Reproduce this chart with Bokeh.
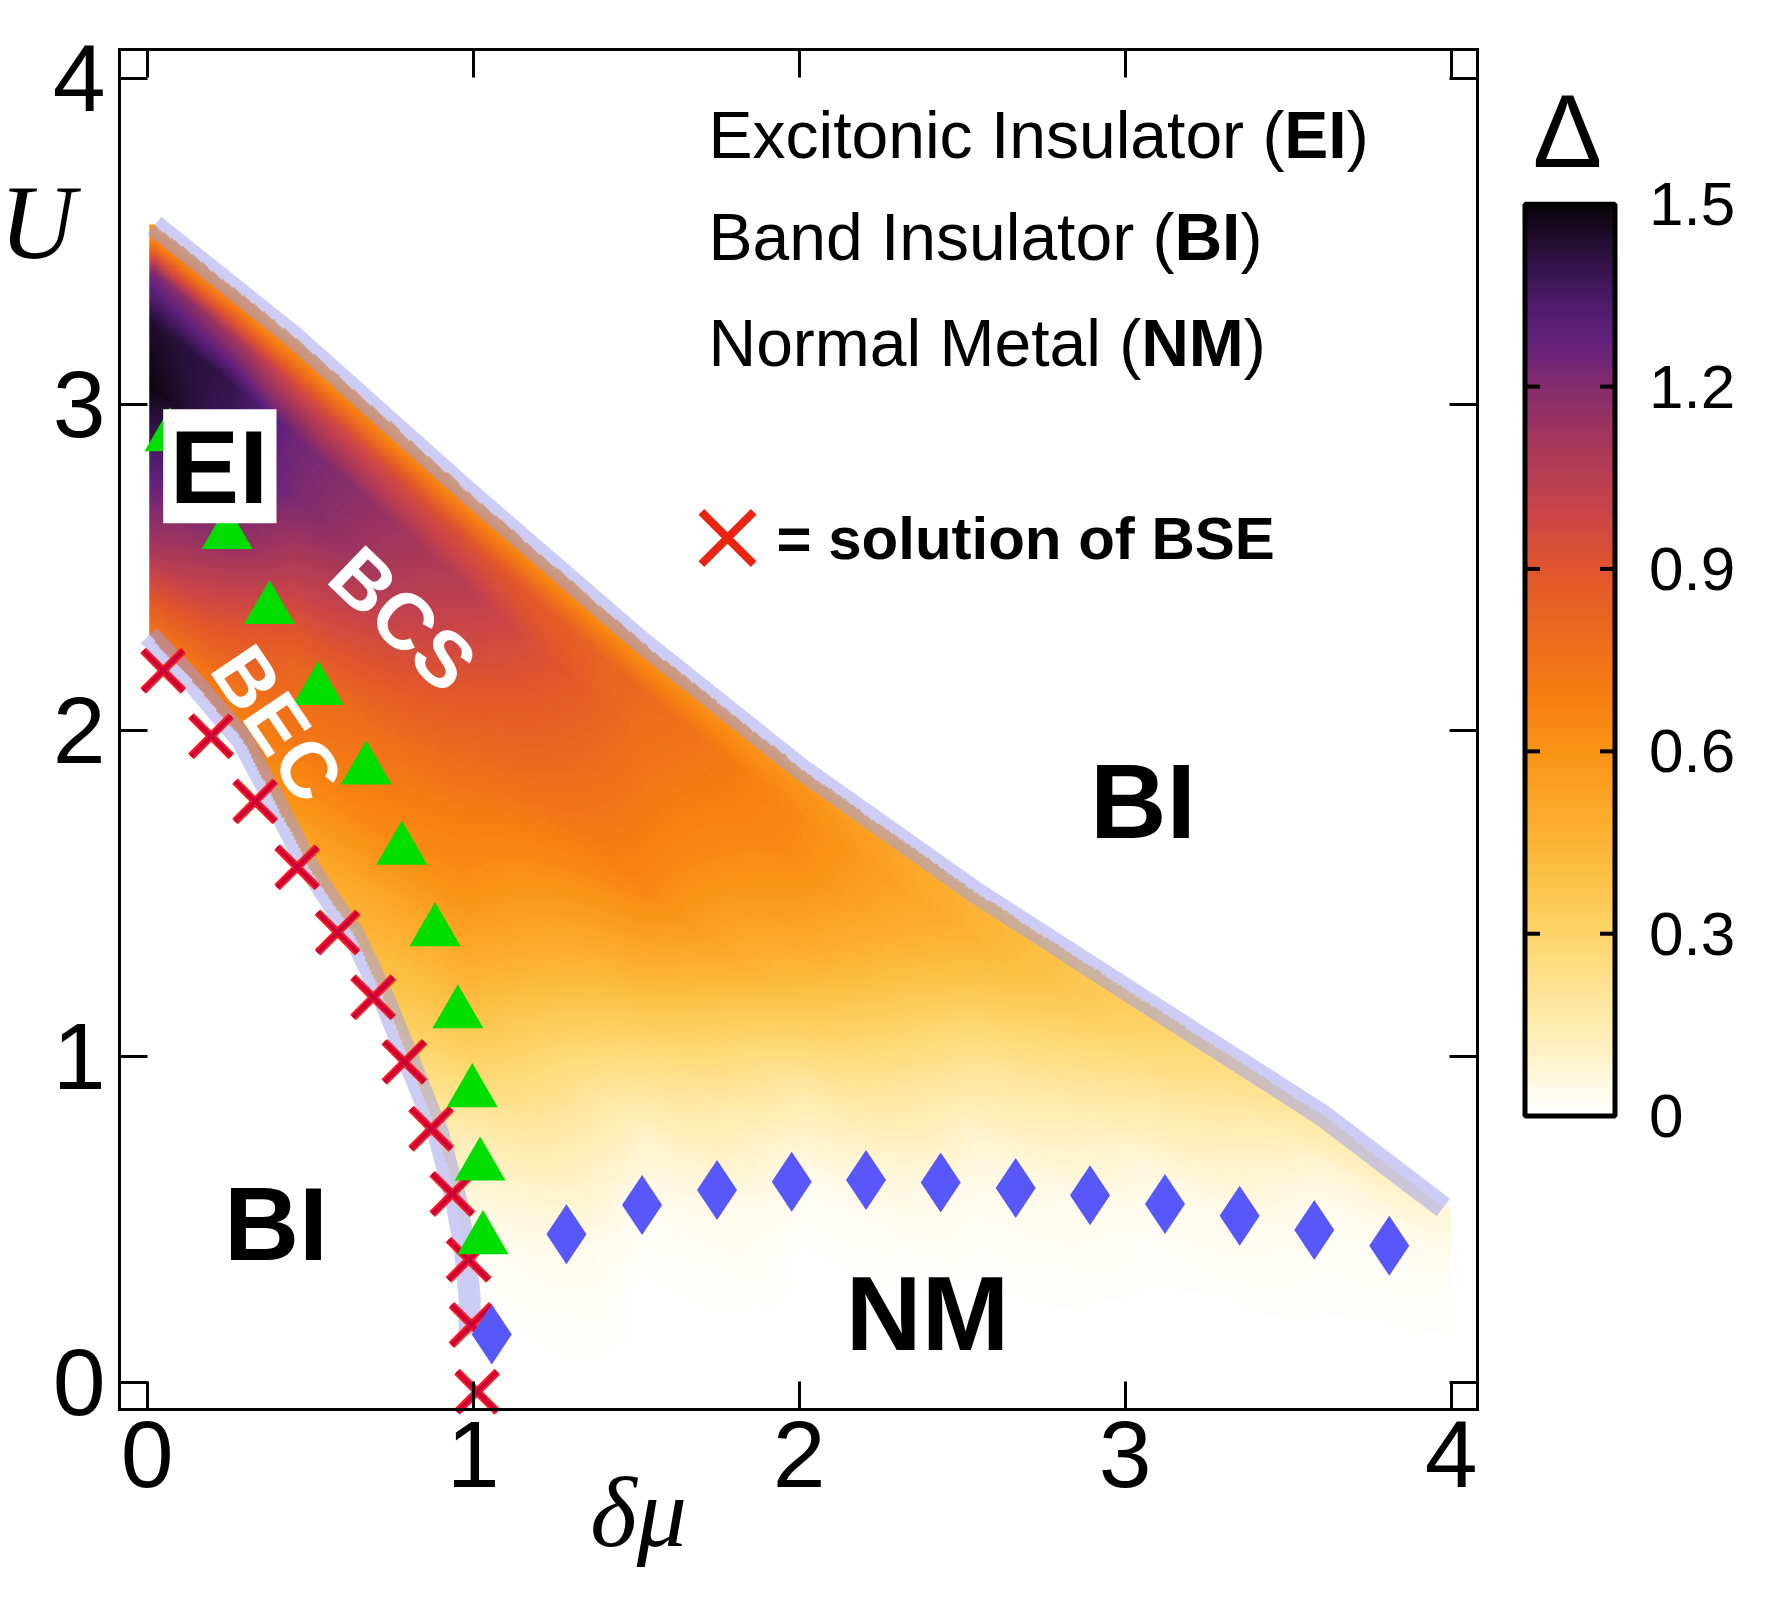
import numpy as np
from bokeh.plotting import figure
from bokeh.models import (Range1d, LinearAxis, FixedTicker, Label, BoxAnnotation,
                          LinearColorMapper)
from bokeh.embed import file_html
from bokeh.resources import INLINE

# ---------------- data ----------------
# red crosses: solution of the BSE
bse_dmu = [0.049, 0.196, 0.331, 0.460, 0.584, 0.693, 0.789, 0.871, 0.936, 0.986, 0.995, 1.012]
bse_U   = [2.182, 1.981, 1.781, 1.579, 1.379, 1.180, 0.982, 0.777, 0.577, 0.375, 0.175, -0.030]
# green triangles (BEC/BCS crossover)
tri_dmu = [0.070, 0.245, 0.375, 0.525, 0.672, 0.781, 0.883, 0.953, 0.997, 1.021, 1.030]
tri_U   = [2.900, 2.600, 2.370, 2.122, 1.878, 1.632, 1.382, 1.130, 0.888, 0.663, 0.437]
# blue diamonds (EI / NM boundary)
nm_dmu = [1.057, 1.286, 1.518, 1.748, 1.977, 2.205, 2.434, 2.664, 2.892, 3.122, 3.351, 3.580, 3.810]
nm_U   = [0.146, 0.453, 0.543, 0.589, 0.614, 0.620, 0.612, 0.595, 0.573, 0.546, 0.510, 0.466, 0.418]
# upper (EI / BI) boundary band
upper_dmu = [0.022, 0.451, 0.983, 1.516, 2.006, 2.539, 3.071, 3.602, 3.976]
upper_U   = [3.548, 3.205, 2.730, 2.270, 1.880, 1.503, 1.160, 0.820, 0.535]
# lower (BI / EI) boundary band
lower_dmu = [0.005, 0.144, 0.291, 0.397, 0.495, 0.632, 0.729, 0.811, 0.893, 0.948, 0.975, 0.989, 0.989]
lower_U   = [2.290, 2.143, 1.970, 1.770, 1.579, 1.374, 1.170, 0.965, 0.760, 0.556, 0.402, 0.259, 0.146]

# gap Delta read along vertical cuts, as a function of depth below the upper boundary
depth_below_upper = [0.0, 0.06, 0.15, 0.3, 0.5, 0.75, 1.0, 1.25, 1.5, 1.75, 2.0, 2.25, 2.5, 3.0]
cut_dmu = [0.02, 0.25, 0.45, 0.98, 1.52, 2.01, 2.54, 3.07, 3.60, 3.98]
gap_cut_002 = [0.55, 0.72, 1.22, 1.44, 1.49, 1.31, 1.10, 0.75, 0.60, 0.60, 0.60, 0.60, 0.60, 0.60]
gap_cut_025 = [0.55, 0.72, 1.12, 1.40, 1.36, 1.20, 0.95, 0.72, 0.60, 0.60, 0.60, 0.60, 0.60, 0.60]
gap_cut_045 = [0.55, 0.68, 0.98, 1.25, 1.22, 1.03, 0.82, 0.72, 0.55, 0.45, 0.45, 0.45, 0.45, 0.45]
gap_cut_098 = [0.55, 0.68, 0.92, 1.05, 0.95, 0.82, 0.70, 0.60, 0.45, 0.30, 0.12, 0.03, 0.00, 0.00]
gap_cut_152 = [0.55, 0.65, 0.80, 0.76, 0.72, 0.66, 0.47, 0.27, 0.10, 0.02, 0.00, 0.00, 0.00, 0.00]
gap_cut_201 = [0.50, 0.60, 0.64, 0.62, 0.52, 0.35, 0.15, 0.03, 0.00, 0.00, 0.00, 0.00, 0.00, 0.00]
gap_cut_254 = [0.42, 0.46, 0.45, 0.36, 0.22, 0.08, 0.02, 0.00, 0.00, 0.00, 0.00, 0.00, 0.00, 0.00]
gap_cut_307 = [0.30, 0.31, 0.27, 0.17, 0.06, 0.01, 0.00, 0.00, 0.00, 0.00, 0.00, 0.00, 0.00, 0.00]
gap_cut_360 = [0.15, 0.15, 0.08, 0.03, 0.01, 0.00, 0.00, 0.00, 0.00, 0.00, 0.00, 0.00, 0.00, 0.00]
gap_cut_398 = [0.07, 0.06, 0.03, 0.01, 0.00, 0.00, 0.00, 0.00, 0.00, 0.00, 0.00, 0.00, 0.00, 0.00]

axis_ticks = [0, 1, 2, 3, 4]
cbar_ticks = [0, 0.3, 0.6, 0.9, 1.2, 1.5]
cbar_labels = ["0", "0.3", "0.6", "0.9", "1.2", "1.5"]

# colour scale
pal_stops = [0.0, 0.03, 0.10, 0.20, 0.30, 0.40, 0.50, 0.60, 0.70, 0.80, 0.90, 1.00, 1.10, 1.20, 1.28, 1.35, 1.42, 1.50]
pal_cols = ["#ffffff", "#fffcef", "#fff1c4", "#fee496", "#fdd468", "#fcbf42", "#fca92a", "#fa9316", "#f67d12",
            "#ec681f", "#e0552d", "#c9444a", "#a8385a", "#842c6c", "#62217d", "#4a1a66", "#2b1140", "#0a0509"]

# ---------------- page geometry helpers ----------------
FONT = "Liberation Sans"
SERIF = "Liberation Serif"
PX = 326.0                 # pixels per data unit
X0, Y0 = 146.7, 1381.5     # page pixel of (0, 0)
FL, FR, FT, FB = 119, 1477, 49, 1409          # axes box (page pixels)
CBL, CBR, CB_TOP, CB_BOT = 1524.5, 1614.5, 203.7, 1115.6   # colour bar (page pixels)


def dx(px):
    return (px - X0) / PX


def dy(py):
    return (Y0 - py) / PX


CB_PX = (CB_BOT - CB_TOP) / 1.5


def cby(py):
    return (CB_BOT - py) / CB_PX


def build_palette(stops, cols, n=256):
    rgb = np.array([[int(c[i:i + 2], 16) for i in (1, 3, 5)] for c in cols], dtype=float)
    out = []
    for v in np.linspace(stops[0], stops[-1], n):
        r, g, b = (np.interp(v, stops, rgb[:, k]) for k in range(3))
        out.append("#%02x%02x%02x" % (int(round(r)), int(round(g)), int(round(b))))
    return out


palette = build_palette(pal_stops, pal_cols)

# ---------------- gap field ----------------
cuts = np.array([gap_cut_002, gap_cut_025, gap_cut_045, gap_cut_098, gap_cut_152,
                 gap_cut_201, gap_cut_254, gap_cut_307, gap_cut_360, gap_cut_398])
cx = np.array(cut_dmu)
nx, ny = 640, 576
W, H = 4.0, 3.6
xc = (np.arange(nx) + 0.5) * W / nx
yc = (np.arange(ny) + 0.5) * H / ny
XC, YC = np.meshgrid(xc, yc)
yU = np.interp(XC, upper_dmu, upper_U)
depth = yU - YC
per_cut = np.stack([np.interp(depth, depth_below_upper, cuts[k]) for k in range(len(cx))])
idx = np.clip(np.searchsorted(cx, XC) - 1, 0, len(cx) - 2)
t = np.clip((XC - cx[idx]) / (cx[idx + 1] - cx[idx]), 0.0, 1.0)
v0 = np.take_along_axis(per_cut, idx[None], 0)[0]
v1 = np.take_along_axis(per_cut, (idx + 1)[None], 0)[0]
gap = (1 - t) * v0 + t * v1
xL = np.interp(YC, lower_U[::-1], lower_dmu[::-1])
mask = (depth >= 0) & (XC >= xL) & (XC <= 4.0) & (gap > 0.005)
gap = np.where(mask, gap, np.nan).astype(np.float32)

mapper = LinearColorMapper(palette=palette, low=0, high=1.5, nan_color=(0, 0, 0, 0))

# ---------------- figure: the frame is the whole page ----------------
p = figure(width=1771, height=1600,
           x_range=Range1d(dx(0), dx(1771)), y_range=Range1d(dy(1600), dy(0)),
           min_border=0, x_axis_location=None, y_axis_location=None,
           output_backend="svg", toolbar_location=None,
           background_fill_color="white", border_fill_color="white")
p.grid.visible = False
p.outline_line_color = None
p.extra_y_ranges = {"cb": Range1d(cby(1600), cby(0))}


def mk_axis(labels=True, **kw):
    ax = LinearAxis(ticker=FixedTicker(ticks=axis_ticks), major_tick_in=28, major_tick_out=0,
                    minor_tick_line_color=None, major_tick_line_width=3, major_tick_line_color="black",
                    axis_line_width=3, axis_line_color="black", axis_line_cap="square",
                    major_label_text_font=FONT, major_label_text_font_size="95px",
                    major_label_text_color="black", **kw)
    if not labels:
        ax.major_label_overrides = {k: "" for k in axis_ticks}
    return ax


p.add_layout(mk_axis(fixed_location=dy(FB), bounds=(dx(FL), dx(FR)), major_label_standoff=12), "below")
p.add_layout(mk_axis(fixed_location=dx(FL), bounds=(dy(FB), dy(FT)), major_label_standoff=14), "left")
p.add_layout(mk_axis(labels=False, fixed_location=dy(FT), bounds=(dx(FL), dx(FR))), "above")
p.add_layout(mk_axis(labels=False, fixed_location=dx(FR), bounds=(dy(FB), dy(FT))), "right")

p.image(image=[gap], x=0, y=0, dw=W, dh=H, color_mapper=mapper)

band_col = (153, 153, 235)
p.line(upper_dmu, upper_U, line_width=22, line_color=band_col, line_alpha=0.5,
       line_cap="butt", line_join="round")
p.line(lower_dmu, lower_U, line_width=22, line_color=band_col, line_alpha=0.5,
       line_cap="butt", line_join="round")

p.scatter(bse_dmu, bse_U, marker="x", size=57, line_color="#ff1a1a", line_width=8)
p.scatter(bse_dmu, bse_U, marker="x", size=57, line_color="#c8003c", line_width=4)
p.scatter(tri_dmu, tri_U, marker="triangle", size=51, fill_color="#00dd00", line_color=None)
p.scatter(nm_dmu, nm_U, marker="diamond", size=60, fill_color="#5757fa", line_color=None)

# EI box
p.add_layout(BoxAnnotation(left=dx(162.7), right=dx(276), bottom=dy(522.7), top=dy(408.7),
                           fill_color="white", fill_alpha=1.0, line_color=None))


def lab(text, px, py, size, bold=False, color="black", align="center", baseline="middle",
        angle=0, font=FONT, italic=False):
    style = "bold" if bold else ("italic" if italic else "normal")
    p.add_layout(Label(x=dx(px), y=dy(py), text=text, text_font=font,
                       text_font_size="%dpx" % size, text_font_style=style,
                       text_color=color, text_align=align, text_baseline=baseline,
                       angle=angle, angle_units="deg"))


# region labels
lab("EI", 218.4, 466.7, 104, bold=True)
lab("BI", 1142.5, 800.5, 106, bold=True)
lab("BI", 275.5, 1223.3, 104, bold=True)
lab("NM", 927, 1312.5, 105, bold=True)
lab("BCS", 402.5, 618.3, 79, bold=True, color="white", angle=-44)
lab("BEC", 277, 722.8, 79, bold=True, color="white", angle=-56)

# phase names legend (cap-centre y of each line)
FS = 66
for (pre, bold_part, mid_y, pre_em, bold_em) in [
        ("Excitonic Insulator (", "EI", 134.7, 8.725, 0.945),
        ("Band Insulator (", "BI", 236.8, 7.059, 1.0),
        ("Normal Metal (", "NM", 342.1, 6.556, 1.555)]:
    x0 = 708.0
    lab(pre, x0, mid_y, FS, align="left")
    lab(bold_part, x0 + pre_em * FS, mid_y, FS, bold=True, align="left")
    lab(")", x0 + (pre_em + bold_em) * FS, mid_y, FS, align="left")

# BSE key
p.scatter([dx(727)], [dy(537.5)], marker="x", size=74, line_color="#ea2410", line_width=8)
lab("= solution of BSE", 776, 537.8, 60, bold=True, align="left")

# axis titles
lab("U", 37, 222, 105, italic=True, font=SERIF)
lab("\u03b4\u03bc", 638, 1512, 100, italic=True, font=SERIF)

# ---------------- colour bar ----------------
grad = np.linspace(0, 1.5, 300).reshape(-1, 1)
p.image(image=[grad], x=dx(CBL), y=0, dw=dx(CBR) - dx(CBL), dh=1.5, color_mapper=mapper,
        y_range_name="cb")
inner = cbar_ticks[1:-1]
p.ray(x=[dx(CBL)] * len(inner), y=inner, length=15, angle=0, length_units="screen",
      line_color="black", line_width=4, y_range_name="cb")
p.ray(x=[dx(CBR)] * len(inner), y=inner, length=15, angle=np.pi, length_units="screen",
      line_color="black", line_width=4, y_range_name="cb")
p.quad(left=[dx(CBL)], right=[dx(CBR)], bottom=[0], top=[1.5], fill_color=None,
       line_color="black", line_width=5, y_range_name="cb")
cax = LinearAxis(y_range_name="cb", fixed_location=dx(CBR), bounds=(0, 1.5),
                 ticker=FixedTicker(ticks=cbar_ticks),
                 major_label_overrides=dict(zip(cbar_ticks, cbar_labels)),
                 major_tick_line_color=None, minor_tick_line_color=None, axis_line_color=None,
                 major_label_text_font=FONT, major_label_text_font_size="62px",
                 major_label_text_color="black", major_label_standoff=28)
p.add_layout(cax, "right")
lab("\u0394", 1567, 130, 104)

open("out.html", "w").write(file_html(p, INLINE))
